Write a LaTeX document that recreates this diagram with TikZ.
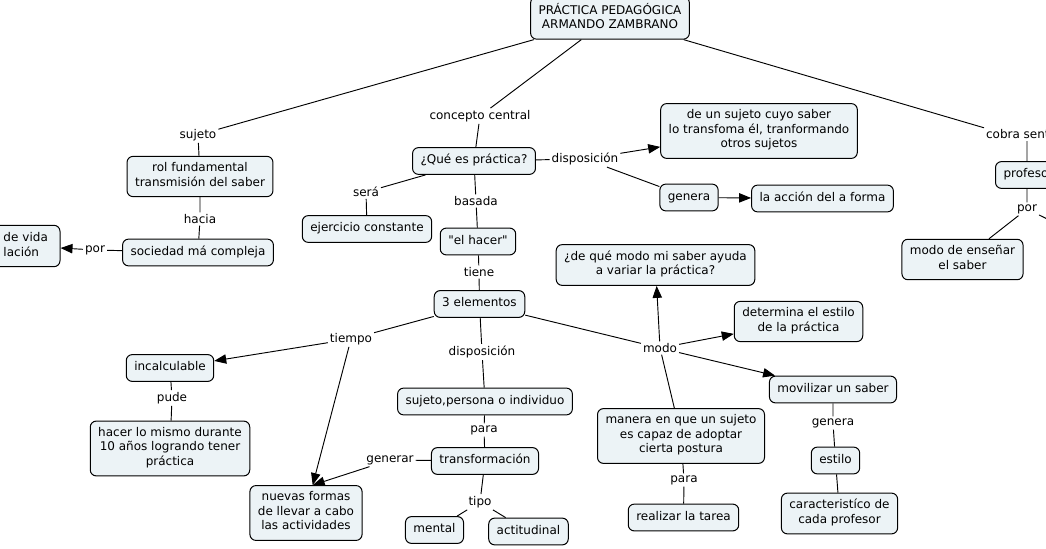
\documentclass[tikz,border=0pt]{standalone}
\usepackage{fontspec}
\setmainfont{DejaVu Sans}
\usetikzlibrary{arrows.meta}

\definecolor{boxfill}{RGB}{236,243,246}
\newcommand{\mapfont}{\fontsize{9pt}{10.9pt}\selectfont}
\newcommand{\cn}{\node[concept]}
\newcommand{\pn}{\node[phrase]}

\tikzset{
    concept/.style={draw, fill=boxfill, line width=0.75pt, rounded corners=4.5pt,
        align=center, inner xsep=6pt, inner ysep=4.6pt, font=\mapfont,
        execute at begin node=\strut, execute at end node=\strut},
    phrase/.style={inner sep=1.2pt, font=\mapfont},
    tip/.style={-{Triangle[length=9pt, width=7pt]}},
}

\begin{document}
\begin{tikzpicture}[x=0.75pt, y=-0.75pt, line width=0.7pt]
            \useasboundingbox (0, 0) rectangle (1046, 549);

            % concepts
            \cn (root) at (610, 18) {PRÁCTICA PEDAGÓGICA\\ARMANDO ZAMBRANO};
            \cn (rol) at (200, 176.5) {rol fundamental\\transmisión del saber};
            \cn (sociedad) at (198, 252.5) {sociedad má compleja};
            \cn[anchor=east, align=left, text width=34pt, inner xsep=8.4pt] (vida) at (60.5, 246) {de vida\\lación};
            \cn (que) at (474, 161) {¿Qué es práctica?};
            \cn (ejercicio) at (367, 229) {ejercicio constante};
            \cn (hacer) at (478, 241.5) {\textquotedbl el hacer\textquotedbl};
            \cn (cuyo) at (759, 131) {de un sujeto cuyo saber\\lo transfoma él, tranformando\\otros sujetos};
            \cn (generab) at (689, 197.5) {genera};
            \cn (accion) at (822.5, 198.5) {la acción del a forma};
            \cn (pregunta) at (655.5, 265) {¿de qué modo mi saber ayuda\\a variar la práctica?};
            \cn (tres) at (479.5, 304) {3 elementos};
            \cn (determina) at (798.5, 321.5) {determina el estilo\\de la práctica};
            \cn (incalc) at (170, 368) {incalculable};
            \cn (mismo) at (170, 448.5) {hacer lo mismo durante\\10 años logrando tener\\práctica};
            \cn (nuevas) at (306, 513) {nuevas formas\\de llevar a cabo\\las actividades};
            \cn (sujper) at (485, 401.5) {sujeto,persona o individuo};
            \cn (transf) at (485, 461) {transformación};
            \cn (mental) at (434.5, 530) {mental};
            \cn (actit) at (528.5, 531.5) {actitudinal};
            \cn (manera) at (681, 436) {manera en que un sujeto\\es capaz de adoptar\\cierta postura};
            \cn (tarea) at (683.5, 517.5) {realizar la tarea};
            \cn (moviliz) at (833, 389.5) {movilizar un saber};
            \cn (estilo) at (835.5, 460.5) {estilo};
            \cn (caract) at (839.5, 513.5) {caracteristíco de\\cada profesor};
            \cn[anchor=west] (prof) at (995, 175) {profesor};
            \cn (ensenar) at (962.5, 259.5) {modo de enseñar\\el saber};

            % linking phrases
            \pn (sujetol) at (198, 135) {sujeto};
            \pn (hacial) at (200, 219) {hacia};
            \pn (porl) at (95, 250) {por};
            \pn (conceptol) at (480, 116) {concepto central};
            \pn (displ) at (585, 159) {disposición};
            \pn (seral) at (366, 192) {será};
            \pn (basadal) at (476, 201) {basada};
            \pn (tienel) at (479, 272) {tiene};
            \pn[anchor=west] (cobral) at (984, 134.5) {cobra sentido};
            \pn (porr) at (1027, 209) {por};
            \pn (tiempol) at (351, 339) {tiempo};
            \pn (dispm) at (482, 352) {disposición};
            \pn (modol) at (660, 348) {modo};
            \pn (pudel) at (172, 398) {pude};
            \pn (paral) at (484, 430) {para};
            \pn (generarl) at (390, 460) {generar};
            \pn (tipol) at (480, 502) {tipo};
            \pn (parar) at (684, 480) {para};
            \pn (general) at (833, 423) {genera};
            \coordinate (fuera) at (1100, 245);

            \draw
                (root) -- (sujetol)
                (sujetol) -- (rol)
                (rol) -- (hacial)
                (hacial) -- (sociedad)
                (sociedad) -- (porl)
                (root) -- (conceptol)
                (conceptol) -- (que)
                (root) -- (cobral.north west)
                ([xshift=24pt]prof.north west) -- ([xshift=24pt]prof.north west |- cobral.south)
                (porr) -- (porr |- prof.south)
                (porr) -- (ensenar)
                (porr) -- (fuera)
                (que) -- (displ)
                (displ) -- (generab)
                (que) -- (seral)
                (seral) -- (ejercicio)
                (que) -- (basadal)
                (basadal) -- (hacer)
                (hacer) -- (tienel)
                (tienel) -- (tres)
                (tres) -- (tiempol)
                (incalc) -- (pudel)
                (pudel) -- (mismo)
                (tres) -- (dispm)
                (dispm) -- (sujper)
                (sujper) -- (paral)
                (paral) -- (transf)
                (transf) -- (generarl)
                (transf) -- (tipol)
                (tipol) -- (mental)
                (tipol) -- (actit)
                (tres) -- (modol)
                (manera) -- (modol)
                (manera) -- (parar)
                (parar) -- (tarea)
                (moviliz) -- (general)
                (general) -- (estilo)
                (estilo) -- (caract)
                ;

            \draw[tip]
                (porl) -- (vida);
            \draw[tip]
                (displ) -- (cuyo);
            \draw[tip]
                (generab) -- (accion);
            \draw[tip]
                (tiempol) -- (incalc);
            \draw[tip]
                (tiempol) -- ([xshift=5pt]nuevas.north);
            \draw[tip]
                (generarl) -- ([xshift=5pt]nuevas.north);
            \draw[tip]
                (modol) -- (pregunta);
            \draw[tip]
                (modol) -- (determina);
            \draw[tip]
                (modol) -- (moviliz);

        \end{tikzpicture}
\end{document}
